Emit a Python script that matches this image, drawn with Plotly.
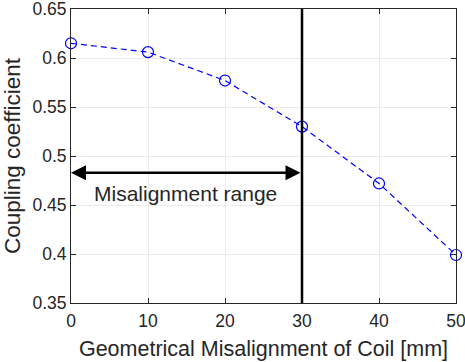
import plotly.graph_objects as go

misalignment_mm = [0, 10, 20, 30, 40, 50]
coupling = [0.615, 0.606, 0.577, 0.530, 0.472, 0.399]
range_limit_mm = 30
arrow_y = 0.483
range_label = "Misalignment range"
x_ticks = [0, 10, 20, 30, 40, 50]
y_ticks = [0.35, 0.4, 0.45, 0.5, 0.55, 0.6, 0.65]
y_tick_text = ["0.35", "0.4", "0.45", "0.5", "0.55", "0.6", "0.65"]

font = "Liberation Sans, Arial, Helvetica, sans-serif"
txt = "#262626"

fig = go.Figure()
fig.add_trace(go.Scatter(
    x=misalignment_mm, y=coupling, mode="lines+markers",
    line=dict(color="#0000ff", width=1.2, dash="6px,4px"),
    marker=dict(symbol="circle-open", size=11, color="#0000ff", line=dict(width=1.2, color="#0000ff")),
    showlegend=False, cliponaxis=False,
))

fig.add_shape(type="line", x0=range_limit_mm, x1=range_limit_mm, y0=0.35, y1=0.65,
              xref="x", yref="y", line=dict(color="black", width=2.5))

fig.add_annotation(x=misalignment_mm[0], y=arrow_y, ax=range_limit_mm, ay=arrow_y,
                   xref="x", yref="y", axref="x", ayref="y", text="",
                   showarrow=True, arrowhead=2, arrowside="end+start", arrowsize=1.2,
                   arrowwidth=2.5, arrowcolor="black")
fig.add_annotation(x=14.9, y=0.462, xref="x", yref="y", text=range_label,
                   showarrow=False, font=dict(family=font, size=21, color=txt))

axis_common = dict(
    showline=True, linecolor=txt, linewidth=1, mirror="ticks",
    ticks="inside", ticklen=5, tickcolor=txt,
    showgrid=True, gridcolor="#ebebeb", gridwidth=1, zeroline=False,
    tickfont=dict(family=font, size=17.5, color=txt),
    ticklabeloverflow="allow", automargin=False,
)
fig.update_xaxes(range=[0, 50], tickvals=x_ticks, ticklabelstandoff=2,
                 title=dict(text="Geometrical Misalignment of Coil [mm]",
                 font=dict(family=font, size=21.5, color=txt), standoff=10), **axis_common)
fig.update_yaxes(range=[0.35, 0.65], tickvals=y_ticks, ticktext=y_tick_text,
                 title=dict(text="Coupling coefficient", font=dict(family=font, size=22.5, color=txt), standoff=5),
                 **axis_common)

fig.update_layout(width=465, height=362, margin=dict(l=71, r=9, t=9, b=59),
                  plot_bgcolor="white", paper_bgcolor="white")
fig.write_html("out.html")
